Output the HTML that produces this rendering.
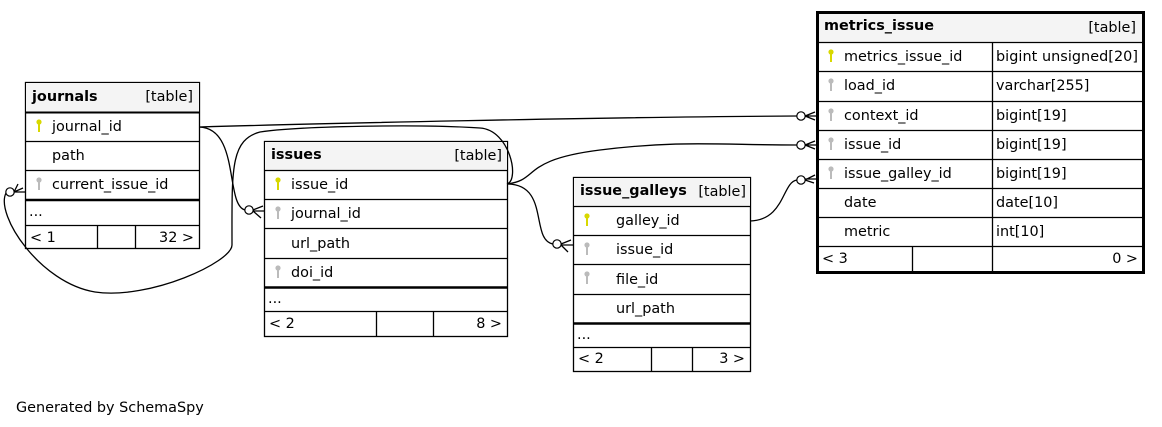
<!DOCTYPE html>
<html><head><meta charset="utf-8"><style>
html,body{margin:0;padding:0;background:#fff;width:1162px;height:427px;overflow:hidden}
svg text{font-family:"DejaVu Sans","Liberation Sans",sans-serif;font-size:14.4px;fill:#000}
.b{font-weight:bold}
</style></head><body>
<svg width="1162" height="427" viewBox="0 0 1162 427" xmlns="http://www.w3.org/2000/svg">
<defs>
<g id="ky"><circle cx="0" cy="-3" r="2.6" fill="#d8d800"/><rect x="-1" y="-2" width="2" height="9" fill="#d8d800"/></g>
<g id="kg"><circle cx="0" cy="-3" r="2.6" fill="#bbb"/><rect x="-1" y="-2" width="2" height="9" fill="#bbb"/></g>
</defs>
<g fill="none" stroke="#000" stroke-width="1.3">
<!-- journals -->
<rect x="25.5" y="82.5" width="174" height="166" fill="#fff"/>
<rect x="26" y="83" width="173" height="29" fill="#f4f4f4" stroke="none"/>
<path d="M25 112.5H199M25 141.5H199M25 170.5H199M25 200H199M25 225.5H199M97.5 225V248M135.5 225V248"/>
<path d="M25 112.5H199" stroke-width="2"/>
<path d="M25 200H199" stroke-width="2.5"/>
<!-- issues -->
<rect x="264.5" y="141.5" width="243" height="195" fill="#fff"/>
<rect x="265" y="142" width="242" height="28" fill="#f4f4f4" stroke="none"/>
<path d="M264 170.5H507M264 199.5H507M264 228.5H507M264 258.5H507M264 287.5H507M264 311.5H507M376.5 311V336M433.5 311V336"/>
<path d="M264 287.5H507" stroke-width="2.5"/>
<!-- issue_galleys -->
<rect x="573.5" y="177.5" width="177" height="194" fill="#fff"/>
<rect x="574" y="178" width="176" height="28" fill="#f4f4f4" stroke="none"/>
<path d="M573 206.5H750M573 235.5H750M573 264.5H750M573 294.5H750M573 323.5H750M573 347.5H750M651.5 347V371M692.5 347V371"/>
<path d="M573 323.5H750" stroke-width="2.5"/>
<!-- metrics_issue -->
<rect x="817.5" y="12.5" width="326" height="260" fill="#fff" stroke-width="3"/>
<rect x="819" y="14" width="323" height="28" fill="#f4f4f4" stroke="none"/>
<path d="M817 42.5H1144M817 71.5H1144M817 101.5H1144M817 130.5H1144M817 159.5H1144M817 188.5H1144M817 217.5H1144M817 246.5H1144M992.5 42V272M912.5 246V272"/>
<!-- edges -->
<path d="M199 127C300 124 600 117 797 116"/>
<path d="M199 127C240 128 225 205 245 210"/>
<path d="M507 184C520 180 510 130 480 128C420 124 300 126 260 132C230 140 232 170 232 245C232 262 150 300 95 292C40 283 -5 215 6 193"/>
<path d="M507 184C540 180 520 160 600 150C680 140 720 145 797 145"/>
<path d="M507 184C550 184 530 240 553 244"/>
<path d="M750 221C785 220 782 182 797 180"/>
<g fill="#fff" stroke-width="1.2">
<circle cx="801" cy="116" r="4.2"/><circle cx="801" cy="145" r="4.2"/><circle cx="801" cy="180" r="4.2"/>
<circle cx="249" cy="210" r="4.2"/><circle cx="557" cy="244" r="4.2"/><circle cx="10" cy="192" r="4.2"/>
</g>
<path d="M805 116L815 112M805 116L815 120M805 116H817M805 145L815 141M805 145L815 149M805 145H817M805 180L815 175M805 180L814 183M805 179H816"/>
<path d="M253 210L263 206M253 211L261 218M253 211H264M561 244L571 240M561 245L568 252M561 245H573M14 192L23 188M14 192L18 184M14 192H25"/>
</g>
<!-- text -->
<text x="32" y="101" class="b">journals</text><text x="193" y="101" text-anchor="end">[table]</text>
<use href="#ky" x="39" y="125"/><text x="52" y="131">journal_id</text>
<text x="52" y="160">path</text>
<use href="#kg" x="39" y="183"/><text x="52" y="189">current_issue_id</text>
<text x="29" y="216">...</text>
<text x="30" y="242">&lt; 1</text><text x="194" y="242" text-anchor="end">32 &gt;</text>

<text x="271" y="159" class="b">issues</text><text x="502" y="160" text-anchor="end">[table]</text>
<use href="#ky" x="278" y="183"/><text x="291" y="189">issue_id</text>
<use href="#kg" x="278" y="212"/><text x="291" y="218">journal_id</text>
<text x="291" y="248">url_path</text>
<use href="#kg" x="278" y="271"/><text x="291" y="277">doi_id</text>
<text x="268" y="303">...</text>
<text x="269" y="328">&lt; 2</text><text x="502" y="328" text-anchor="end">8 &gt;</text>

<text x="580" y="195" class="b">issue_galleys</text><text x="746" y="196" text-anchor="end">[table]</text>
<use href="#ky" x="587" y="219"/><text x="616" y="225">galley_id</text>
<use href="#kg" x="587" y="248"/><text x="616" y="254">issue_id</text>
<use href="#kg" x="587" y="277"/><text x="616" y="284">file_id</text>
<text x="616" y="313">url_path</text>
<text x="577" y="339">...</text>
<text x="578" y="363">&lt; 2</text><text x="745" y="363" text-anchor="end">3 &gt;</text>

<text x="824" y="30" class="b">metrics_issue</text><text x="1136" y="32" text-anchor="end">[table]</text>
<use href="#ky" x="831" y="55"/><text x="844" y="61">metrics_issue_id</text><text x="996" y="61" textLength="142">bigint unsigned[20]</text>
<use href="#kg" x="831" y="84"/><text x="844" y="90">load_id</text><text x="996" y="90">varchar[255]</text>
<use href="#kg" x="831" y="114"/><text x="844" y="120">context_id</text><text x="996" y="120">bigint[19]</text>
<use href="#kg" x="831" y="143"/><text x="844" y="149">issue_id</text><text x="996" y="149">bigint[19]</text>
<use href="#kg" x="831" y="172"/><text x="844" y="178">issue_galley_id</text><text x="996" y="178">bigint[19]</text>
<text x="844" y="207">date</text><text x="996" y="207">date[10]</text>
<text x="844" y="236">metric</text><text x="996" y="236">int[10]</text>
<text x="822" y="263">&lt; 3</text><text x="1138" y="263" text-anchor="end">0 &gt;</text>

<text x="16" y="412">Generated by SchemaSpy</text>
</svg>
</body></html>
